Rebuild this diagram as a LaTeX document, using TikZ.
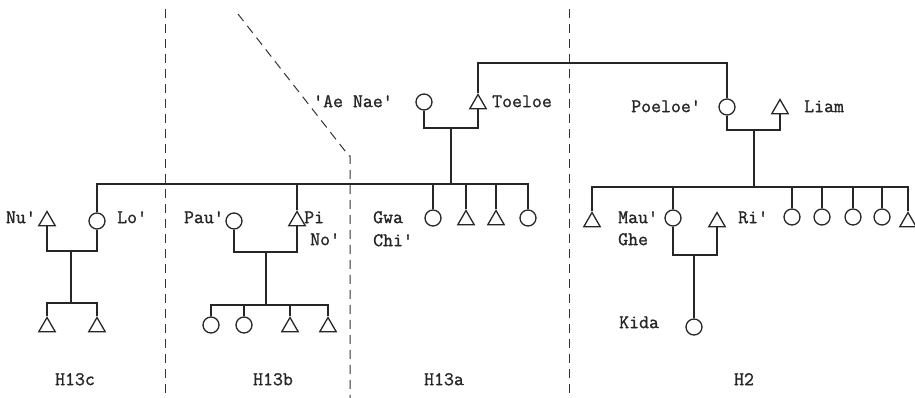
\documentclass[tikz,border=0pt]{standalone}
\usepackage{fontspec}
\newfontfamily\tw{Latin Modern Mono}[FakeBold=1.2]
\usetikzlibrary{shapes.geometric}
\begin{document}
\begin{tikzpicture}[x=1pt,y=-1pt,
  ln/.style={line width=1.6pt, draw=black!85},
  dsh/.style={line width=1pt, draw=black!80, dash pattern=on 9pt off 6pt},
  fem/.style={circle, draw=black!85, line width=1.3pt, minimum size=16pt, inner sep=0pt},
  mal/.style={regular polygon, regular polygon sides=3, draw=black!85, line width=1.3pt, minimum size=19pt, inner sep=0pt},
  lbl/.style={font=\tw\fontsize{19.3}{21}\selectfont, inner sep=0pt, text=black!85}]
\useasboundingbox (0,0) rectangle (915,398);
% dashed boundaries
\coordinate (d1t) at (165,9);
\coordinate (d1b) at (165,398);
\coordinate (d2t) at (238,14);
\coordinate (d2k) at (349,156);
\coordinate (d2b) at (350,398);
\coordinate (d3t) at (569,9);
\coordinate (d3b) at (569,398);
\draw[dsh] (d1t) -- (d1b);
\draw[dsh] (d2t) -- (d2k) -- (d2b |- d2k) -- (d2b);
\draw[dsh] (d3t) -- (d3b);
% H13c
\node[mal] (nu) at (47,221) {};
\node[fem] (lo) at (97,221) {};
\node[mal] (c1) at (47,327) {};
\node[mal] (c2) at (97,327) {};
% H13b
\node[fem] (pau) at (234,221) {};
\node[mal] (pi) at (297,221) {};
\node[fem] (b1) at (211,325) {};
\node[fem] (b2) at (244,325) {};
\node[mal] (b3) at (290,327) {};
\node[mal] (b4) at (328,327) {};
% H13a
\node[fem] (ae) at (424,102) {};
\node[mal] (toe) at (478,104) {};
\node[fem] (a1) at (433,218) {};
\node[mal] (a2) at (466,220) {};
\node[mal] (a3) at (496,220) {};
\node[fem] (a4) at (528,218) {};
% H2
\node[fem] (poe) at (727,107) {};
\node[mal] (liam) at (780,109) {};
\node[mal] (h1) at (592,222) {};
\node[fem] (mau) at (673,218) {};
\node[mal] (ri) at (717,222) {};
\node[fem] (h3) at (792,217) {};
\node[fem] (h4) at (822,217) {};
\node[fem] (h5) at (853,217) {};
\node[fem] (h6) at (882,217) {};
\node[mal] (h7) at (908,222) {};
\node[fem] (kida) at (694,327) {};
% junction coordinates
\coordinate (tl) at (600,63);
\coordinate (m13a) at (451,128);
\coordinate (sib13) at (451,184);
\coordinate (m13c) at (71,251);
\coordinate (k13c) at (71,303);
\coordinate (m13b) at (266,252);
\coordinate (k13b) at (266,305);
\coordinate (m2) at (754,130);
\coordinate (sib2) at (754,187);
\coordinate (m2b) at (694,255);
% connectors
\draw[ln] (toe) |- (tl) -| (poe);
\draw[ln] (ae) |- (m13a) -| (toe);
\draw[ln] (m13a) -- (sib13);
\draw[ln] (lo) |- (sib13) -| (a4);
\draw[ln] (pi) -- (pi |- sib13);
\draw[ln] (a1) -- (a1 |- sib13);
\draw[ln] (a2) -- (a2 |- sib13);
\draw[ln] (a3) -- (a3 |- sib13);
\draw[ln] (nu) |- (m13c) -| (lo);
\draw[ln] (m13c) -- (k13c);
\draw[ln] (c1) |- (k13c) -| (c2);
\draw[ln] (pau) |- (m13b) -| (pi);
\draw[ln] (m13b) -- (k13b);
\draw[ln] (b1) |- (k13b) -| (b4);
\draw[ln] (b2) -- (b2 |- k13b);
\draw[ln] (b3) -- (b3 |- k13b);
\draw[ln] (poe) |- (m2) -| (liam);
\draw[ln] (m2) -- (sib2);
\draw[ln] (h1) |- (sib2) -| (h7);
\draw[ln] (mau) -- (mau |- sib2);
\draw[ln] (h3) -- (h3 |- sib2);
\draw[ln] (h4) -- (h4 |- sib2);
\draw[ln] (h5) -- (h5 |- sib2);
\draw[ln] (h6) -- (h6 |- sib2);
\draw[ln] (mau) |- (m2b) -| (ri);
\draw[ln] (m2b) -- (kida);
% labels
\node[lbl, anchor=mid east] (lnu) at (36,221) {Nu'};
\node[lbl, anchor=mid west] (llo) at (117,221) {Lo'};
\node[lbl, anchor=mid east] (lpau) at (224,221) {Pau'};
\node[lbl, anchor=mid west] (lpi) at (304,221) {Pi};
\node[lbl, anchor=mid west] (lno) at (310,243) {No'};
\node[lbl, anchor=mid west] (lgwa) at (373,221) {Gwa};
\node[lbl, anchor=mid west] (lchi) at (373,244) {Chi'};
\node[lbl, anchor=mid west] (lae) at (313,105) {'Ae Nae'};
\node[lbl, anchor=mid west] (ltoe) at (492,105) {Toeloe};
\node[lbl, anchor=mid east] (lpoe) at (701,110) {Poeloe'};
\node[lbl, anchor=mid west] (lliam) at (804,110) {Liam};
\node[lbl, anchor=mid west] (lmau) at (618,221) {Mau'};
\node[lbl, anchor=mid west] (lghe) at (618,243) {Ghe};
\node[lbl, anchor=mid west] (lri) at (738,221) {Ri'};
\node[lbl, anchor=mid west] (lkida) at (619,326) {Kida};
\node[lbl, anchor=mid] (lh13c) at (75,383) {H13c};
\node[lbl, anchor=mid] (lh13b) at (273,383) {H13b};
\node[lbl, anchor=mid] (lh13a) at (444,383) {H13a};
\node[lbl, anchor=mid] (lh2) at (744,383) {H2};
\end{tikzpicture}
\end{document}
